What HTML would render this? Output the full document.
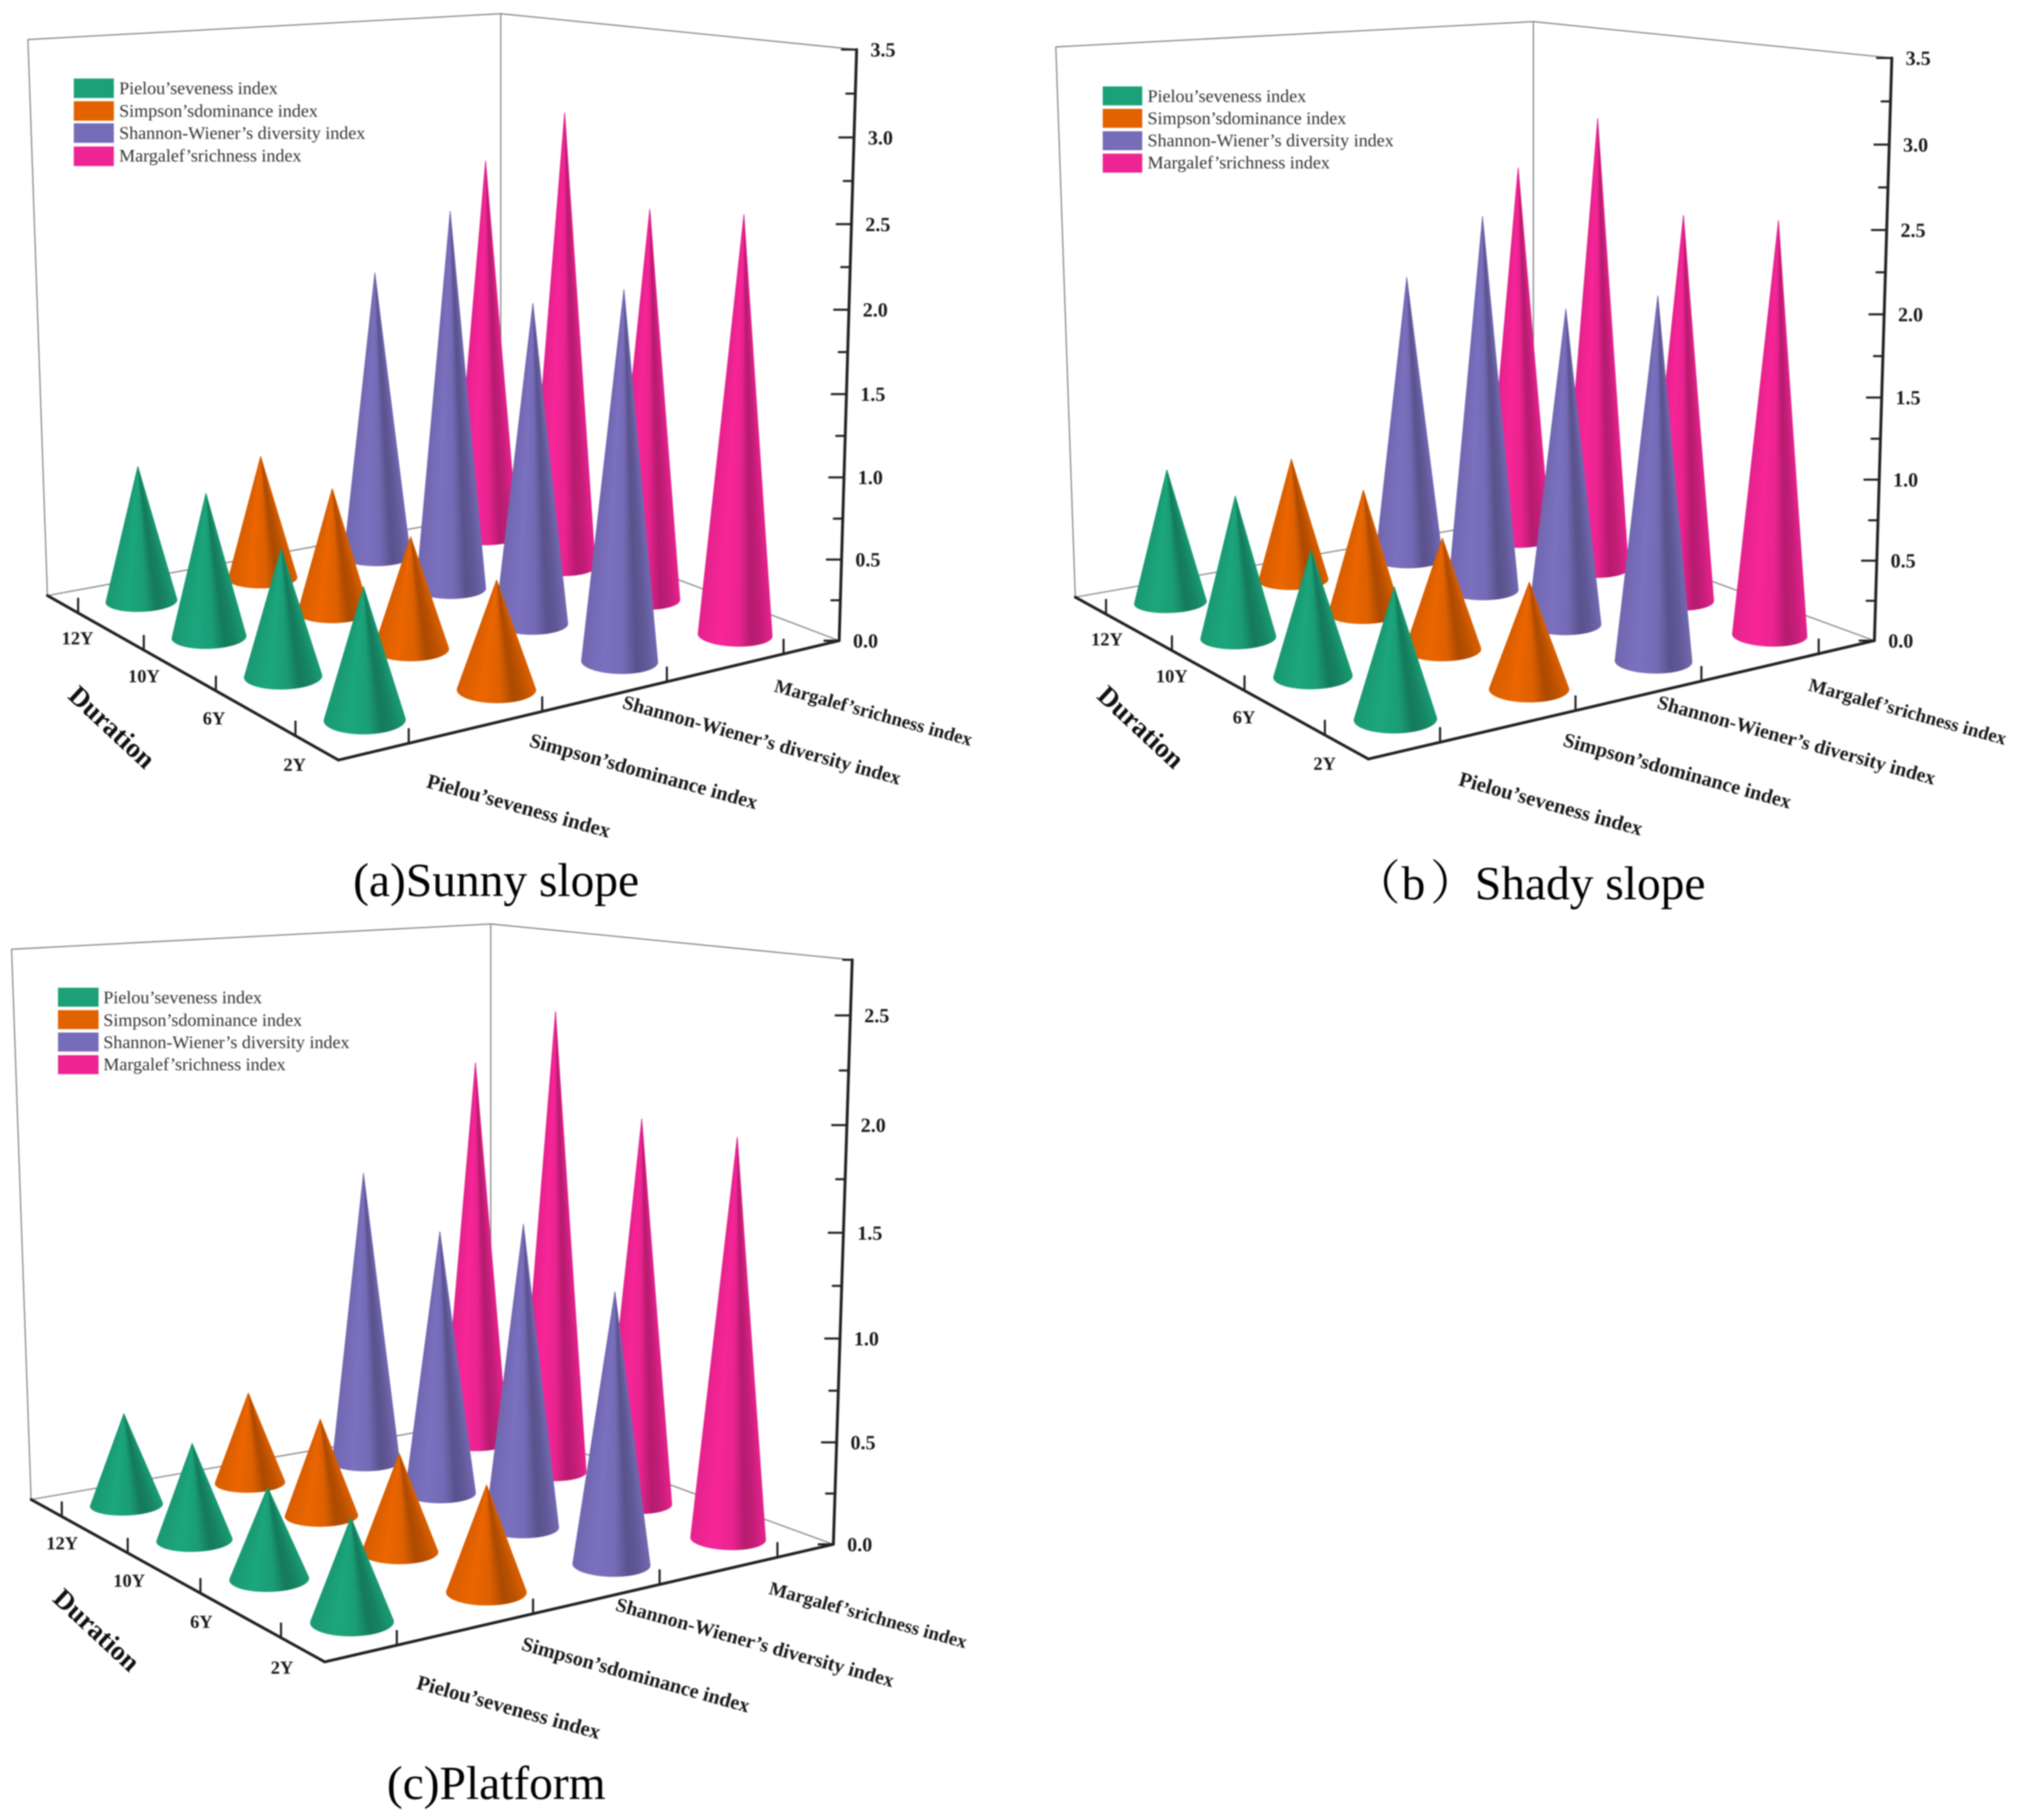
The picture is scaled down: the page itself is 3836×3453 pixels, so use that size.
<!DOCTYPE html>
<html lang="en">
<head>
<meta charset="utf-8">
<title>Diversity index cone charts by slope and duration</title>
<style>
html,body{margin:0;padding:0;background:#fff;}
svg{display:block;filter:blur(1.4px);}
text{font-family:"Liberation Serif","Noto Serif CJK SC",serif;}
.legend-text{font-size:34.2px;fill:#333;dominant-baseline:central;}
.cat{font-weight:bold;fill:#1a1a1a;text-anchor:middle;dominant-baseline:central;}
.cat-p{font-size:39.5px;}
.cat-si{font-size:38.5px;}
.cat-sh{font-size:37.6px;}
.cat-m{font-size:36px;}
.dur{font-size:35px;font-weight:bold;fill:#1a1a1a;text-anchor:middle;dominant-baseline:central;}
.title{font-size:52px;font-weight:bold;fill:#111;text-anchor:middle;dominant-baseline:central;}
.val{font-size:38px;font-weight:bold;fill:#1a1a1a;text-anchor:middle;dominant-baseline:central;}
.caption{font-size:90px;fill:#000;}
</style>
</head>
<body>
<svg id="chart" xmlns="http://www.w3.org/2000/svg" width="3836" height="3453" viewBox="0 0 3836 3453">
<rect x="0" y="0" width="3836" height="3453" fill="#fff"/>

<g>
  <g id="plot-sunny"></g>
  <g>
    <rect x="140" y="149" width="76" height="37" fill="#1ba078"/>
    <rect x="140" y="192" width="76" height="37" fill="#e26200"/>
    <rect x="140" y="234" width="76" height="37" fill="#766cb8"/>
    <rect x="140" y="278" width="76" height="37" fill="#ee2492"/>
    <text class="legend-text" x="226" y="168">Pielou’seveness index</text>
    <text class="legend-text" x="226" y="211">Simpson’sdominance index</text>
    <text class="legend-text" x="226" y="253">Shannon-Wiener’s diversity index</text>
    <text class="legend-text" x="226" y="296">Margalef’srichness index</text>
  </g>
  <text class="cat cat-p" x="984" y="1529" transform="rotate(15.5 984 1529)">Pielou’seveness index</text>
  <text class="cat cat-si" x="1221" y="1464" transform="rotate(15.5 1221 1464)">Simpson’sdominance index</text>
  <text class="cat cat-sh" x="1445" y="1405" transform="rotate(15.5 1445 1405)">Shannon-Wiener’s diversity index</text>
  <text class="cat cat-m" x="1657" y="1352" transform="rotate(15.5 1657 1352)">Margalef’srichness index</text>
  <text class="dur" x="147" y="1211">12Y</text>
  <text class="dur" x="273" y="1283">10Y</text>
  <text class="dur" x="406" y="1363">6Y</text>
  <text class="dur" x="559" y="1451">2Y</text>
  <text class="title" x="212" y="1380" transform="rotate(43 212 1380)">Duration</text>
  <text class="caption" x="670" y="1700">(a)Sunny slope</text>
</g>

<g>
  <g id="plot-shady"></g>
  <g>
    <rect x="2092" y="164" width="75" height="36" fill="#1ba078"/>
    <rect x="2092" y="206.5" width="75" height="36" fill="#e26200"/>
    <rect x="2092" y="249" width="75" height="36" fill="#766cb8"/>
    <rect x="2092" y="291.5" width="75" height="36" fill="#ee2492"/>
    <text class="legend-text" x="2177" y="183">Pielou’seveness index</text>
    <text class="legend-text" x="2177" y="225">Simpson’sdominance index</text>
    <text class="legend-text" x="2177" y="267">Shannon-Wiener’s diversity index</text>
    <text class="legend-text" x="2177" y="309">Margalef’srichness index</text>
  </g>
  <text class="cat cat-p" x="2942" y="1525" transform="rotate(15.5 2942 1525)">Pielou’seveness index</text>
  <text class="cat cat-si" x="3182" y="1463" transform="rotate(15.5 3182 1463)">Simpson’sdominance index</text>
  <text class="cat cat-sh" x="3408" y="1405" transform="rotate(15.5 3408 1405)">Shannon-Wiener’s diversity index</text>
  <text class="cat cat-m" x="3619" y="1350" transform="rotate(15.5 3619 1350)">Margalef’srichness index</text>
  <text class="dur" x="2100" y="1213">12Y</text>
  <text class="dur" x="2223" y="1283">10Y</text>
  <text class="dur" x="2360" y="1361">6Y</text>
  <text class="dur" x="2513" y="1449">2Y</text>
  <text class="title" x="2164" y="1380" transform="rotate(43 2164 1380)">Duration</text>
  <text class="caption" y="1706"><tspan x="2567">（</tspan><tspan x="2659">b</tspan><tspan x="2713">）</tspan><tspan x="2798">Shady slope</tspan></text>
</g>

<g>
  <g id="plot-platform"></g>
  <g>
    <rect x="110" y="1874" width="77" height="36" fill="#1ba078"/>
    <rect x="110" y="1916.5" width="77" height="36" fill="#e26200"/>
    <rect x="110" y="1959" width="77" height="36" fill="#766cb8"/>
    <rect x="110" y="2002" width="77" height="36" fill="#ee2492"/>
    <text class="legend-text" x="196" y="1893">Pielou’seveness index</text>
    <text class="legend-text" x="196" y="1936">Simpson’sdominance index</text>
    <text class="legend-text" x="196" y="1978">Shannon-Wiener’s diversity index</text>
    <text class="legend-text" x="196" y="2020">Margalef’srichness index</text>
  </g>
  <text class="cat cat-p" x="965" y="3239" transform="rotate(15.5 965 3239)">Pielou’seveness index</text>
  <text class="cat cat-si" x="1206" y="3178" transform="rotate(15.5 1206 3178)">Simpson’sdominance index</text>
  <text class="cat cat-sh" x="1432" y="3117" transform="rotate(15.5 1432 3117)">Shannon-Wiener’s diversity index</text>
  <text class="cat cat-m" x="1647" y="3064" transform="rotate(15.5 1647 3064)">Margalef’srichness index</text>
  <text class="dur" x="118" y="2928">12Y</text>
  <text class="dur" x="245" y="2999">10Y</text>
  <text class="dur" x="382" y="3077">6Y</text>
  <text class="dur" x="535" y="3164">2Y</text>
  <text class="title" x="183" y="3093" transform="rotate(43 183 3093)">Duration</text>
  <text class="caption" x="734" y="3413">(c)Platform</text>
</g>
</svg>

<script>
// ---- data: each series runs 2Y, 6Y, 10Y, 12Y ----
const durations = ['2Y', '6Y', '10Y', '12Y'];
const categories = ['pielou', 'simpson', 'shannon', 'margalef'];

const sunnyPielou = [0.752, 0.756, 0.886, 0.866];
const sunnySimpson = [0.640, 0.685, 0.785, 0.806];
const sunnyShannon = [2.190, 1.975, 2.416, 1.906];
const sunnyMargalef = [2.540, 2.463, 2.970, 2.568];

const shadyPielou = [0.751, 0.753, 0.882, 0.864];
const shadySimpson = [0.630, 0.685, 0.791, 0.811];
const shadyShannon = [2.177, 1.970, 2.427, 1.920];
const shadyMargalef = [2.539, 2.469, 2.991, 2.586];

const platformPielou = [0.467, 0.431, 0.476, 0.469];
const platformSimpson = [0.496, 0.478, 0.490, 0.475];
const platformShannon = [1.285, 1.489, 1.346, 1.546];
const platformMargalef = [1.931, 1.935, 2.400, 2.074];

const sunnyTicks = ['0.0', '0.5', '1.0', '1.5', '2.0', '2.5', '3.0', '3.5'];
const shadyTicks = ['0.0', '0.5', '1.0', '1.5', '2.0', '2.5', '3.0', '3.5'];
const platformTicks = ['0.0', '0.5', '1.0', '1.5', '2.0', '2.5'];

const colors = [[27,160,120],[226,98,0],[118,108,184],[238,36,146]];
const shadeStops = [[0,0.96],[0.3,1.04],[0.55,0.98],[0.72,0.76],[0.85,0.82],[1,0.97]];
const CONE_RADIUS = 0.0633;

const NS = 'http://www.w3.org/2000/svg';
function mk(parent, tag, attrs) {
  const el = document.createElementNS(NS, tag);
  for (const k in attrs) el.setAttribute(k, attrs[k]);
  parent.appendChild(el);
  return el;
}

function makeCamera(p) {
  // floor homography: s runs front corner -> right corner, t runs front corner -> left corner
  const [x0,y0] = p.F, [x1,y1] = p.R, [x2,y2] = p.B, [x3,y3] = p.L;
  const dx1 = x1-x2, dx2 = x3-x2, dy1 = y1-y2, dy2 = y3-y2;
  const sx = x0-x1+x2-x3, sy = y0-y1+y2-y3;
  const den = dx1*dy2-dx2*dy1;
  const g = (sx*dy2-dx2*sy)/den, h = (dx1*sy-sx*dy1)/den;
  const a = x1-x0+g*x1, b = x3-x0+h*x3, d = y1-y0+g*y1, e = y3-y0+h*y3;
  const wR = 1+g;
  const mu = (p.R[1]*wR - p.axisTopY*wR) / (p.zMax*(p.V[1]-p.axisTopY));
  return function project(s, t, z) {
    const w = 1+g*s+h*t - mu*z;
    return [
      (a*s+b*t+x0 - mu*z*p.V[0])/w,
      (d*s+e*t+y0 - mu*z*p.V[1])/w,
      1+g*s+h*t
    ];
  };
}

function shade(f, rgb) {
  let m = 1;
  for (let i = 0; i < shadeStops.length-1; i++) {
    const A = shadeStops[i], B = shadeStops[i+1];
    if (f >= A[0] && f <= B[0]) { m = A[1]+(B[1]-A[1])*(f-A[0])/(B[0]-A[0]); break; }
  }
  const c = rgb.map(v => Math.max(0, Math.min(255, Math.round(v*m))));
  return 'rgb('+c[0]+','+c[1]+','+c[2]+')';
}

function hull(points) {
  const pts = points.slice().sort((p,q) => p[0]-q[0] || p[1]-q[1]);
  const cross = (o,p,q) => (p[0]-o[0])*(q[1]-o[1])-(p[1]-o[1])*(q[0]-o[0]);
  const lo = [], up = [];
  for (const p of pts) { while (lo.length>1 && cross(lo[lo.length-2],lo[lo.length-1],p)<=0) lo.pop(); lo.push(p); }
  for (let i=pts.length-1;i>=0;i--) { const p=pts[i]; while (up.length>1 && cross(up[up.length-2],up[up.length-1],p)<=0) up.pop(); up.push(p); }
  lo.pop(); up.pop();
  return lo.concat(up);
}

function drawCone(layer, project, catIndex, durIndex, value, panelKey) {
  const s = (catIndex+0.5)/4, t = (durIndex+0.5)/4;
  const apex = project(s, t, value);
  const ring = [];
  for (let k = 0; k < 90; k++) {
    const th = k/90*Math.PI*2;
    ring.push(project(s+CONE_RADIUS*Math.cos(th), t+CONE_RADIUS*Math.sin(th), 0));
  }
  const xs = ring.map(p => p[0]);
  const xmin = Math.min.apply(null, xs), xmax = Math.max.apply(null, xs);
  const h = hull(ring.concat([apex]));
  const ai = h.indexOf(apex);
  const order = h.slice(ai).concat(h.slice(0, ai));
  const g = mk(layer, 'g', {});
  
  
  for (let k = 1; k < order.length-1; k++) {
    const p = order[k], q = order[k+1];
    const f = Math.max(0, Math.min(1, ((p[0]+q[0])/2-xmin)/(xmax-xmin)));
    const col = shade(f, colors[catIndex]);
    const wedge = mk(g, 'polygon', {
      points: apex[0]+','+apex[1]+' '+p[0]+','+p[1]+' '+q[0]+','+q[1],
      fill: col, stroke: col, 'stroke-width': 1
    });
    
    
  }
}

function line(layer, A, B, stroke, width) {
  return mk(layer, 'line', {x1:A[0], y1:A[1], x2:B[0], y2:B[1], stroke:stroke, 'stroke-width':width, 'stroke-linecap':'round'});
}

function drawPanel(p) {
  const host = document.getElementById(p.host);
  const project = makeCamera(p);
  const top = project(1, 0, p.zMax);
  const GREY = '#8a8a8a', DARK = '#222';

  const wallEdges = [[p.TL,p.L],[p.TL,p.BT],[p.BT,p.B],[p.BT,top],[p.L,p.B],[p.B,p.R]];
  for (const edge of wallEdges) {
    const wall = line(host, edge[0], edge[1], GREY, 2.4);
    
    
  }

  const coneLayer = mk(host, 'g', {});
  
  
  const jobs = [];
  p.series.forEach((vals, c) => vals.forEach((v, d) => {
    jobs.push({c:c, d:d, v:v, depth:project((c+0.5)/4, (d+0.5)/4, 0)[2]});
  }));
  jobs.sort((A,B) => B.depth-A.depth);
  for (const J of jobs) drawCone(coneLayer, project, J.c, J.d, J.v, p.key);

  // floor axes
  const catAxis = line(host, p.F, p.R, DARK, 5.5);
  
  
  const durAxis = line(host, p.F, p.L, DARK, 5.5);
  
  
  const valAxis = line(host, p.R, top, DARK, 5.5);
  
  

  for (let i = 0; i < 4; i++) {
    const A = project((i+0.5)/4, 0, 0);
    const tick = line(host, A, [A[0], A[1]-27], DARK, 4);
    
    
    const B = project(0, (i+0.5)/4, 0);
    const tick2 = line(host, B, [B[0], B[1]-27], DARK, 4);
    
    
  }

  // value axis ticks and labels
  p.ticks.forEach((label) => {
    const z = parseFloat(label);
    const A = project(1, 0, z);
    const major = line(host, A, [A[0]-28, A[1]], DARK, 4);
    
    
    const txt = mk(host, 'text', {class:'val', x:A[0]+50, y:A[1]+1});
    
    
    txt.textContent = label;
    if (z + 0.25 <= p.zMax) {
      const M = project(1, 0, z+0.25);
      const minor = line(host, M, [M[0]-17, M[1]], DARK, 4);
      
      
    }
  });
}

const panels = [
  {key:'sunny', host:'plot-sunny', F:[642,1442], R:[1592,1215.5], B:[950,972], L:[90,1130],
   TL:[53,75], BT:[950,26], axisTopY:94, V:[904,24496], zMax:3.5, ticks:sunnyTicks,
   series:[sunnyPielou, sunnySimpson, sunnyShannon, sunnyMargalef]},
  {key:'shady', host:'plot-shady', F:[2596,1440], R:[3556,1215.5], B:[2909,979], L:[2040,1133],
   TL:[2003,89], BT:[2909,41], axisTopY:110, V:[2860,24496], zMax:3.5, ticks:shadyTicks,
   series:[shadyPielou, shadySimpson, shadyShannon, shadyMargalef]},
  {key:'platform', host:'plot-platform', F:[616,3153], R:[1581,2930], B:[931,2693], L:[59,2845],
   TL:[22,1801], BT:[931,1753], axisTopY:1821, V:[885,24496], zMax:2.75, ticks:platformTicks,
   series:[platformPielou, platformSimpson, platformShannon, platformMargalef]}
];
panels.forEach(drawPanel);
</script>
</body>
</html>
